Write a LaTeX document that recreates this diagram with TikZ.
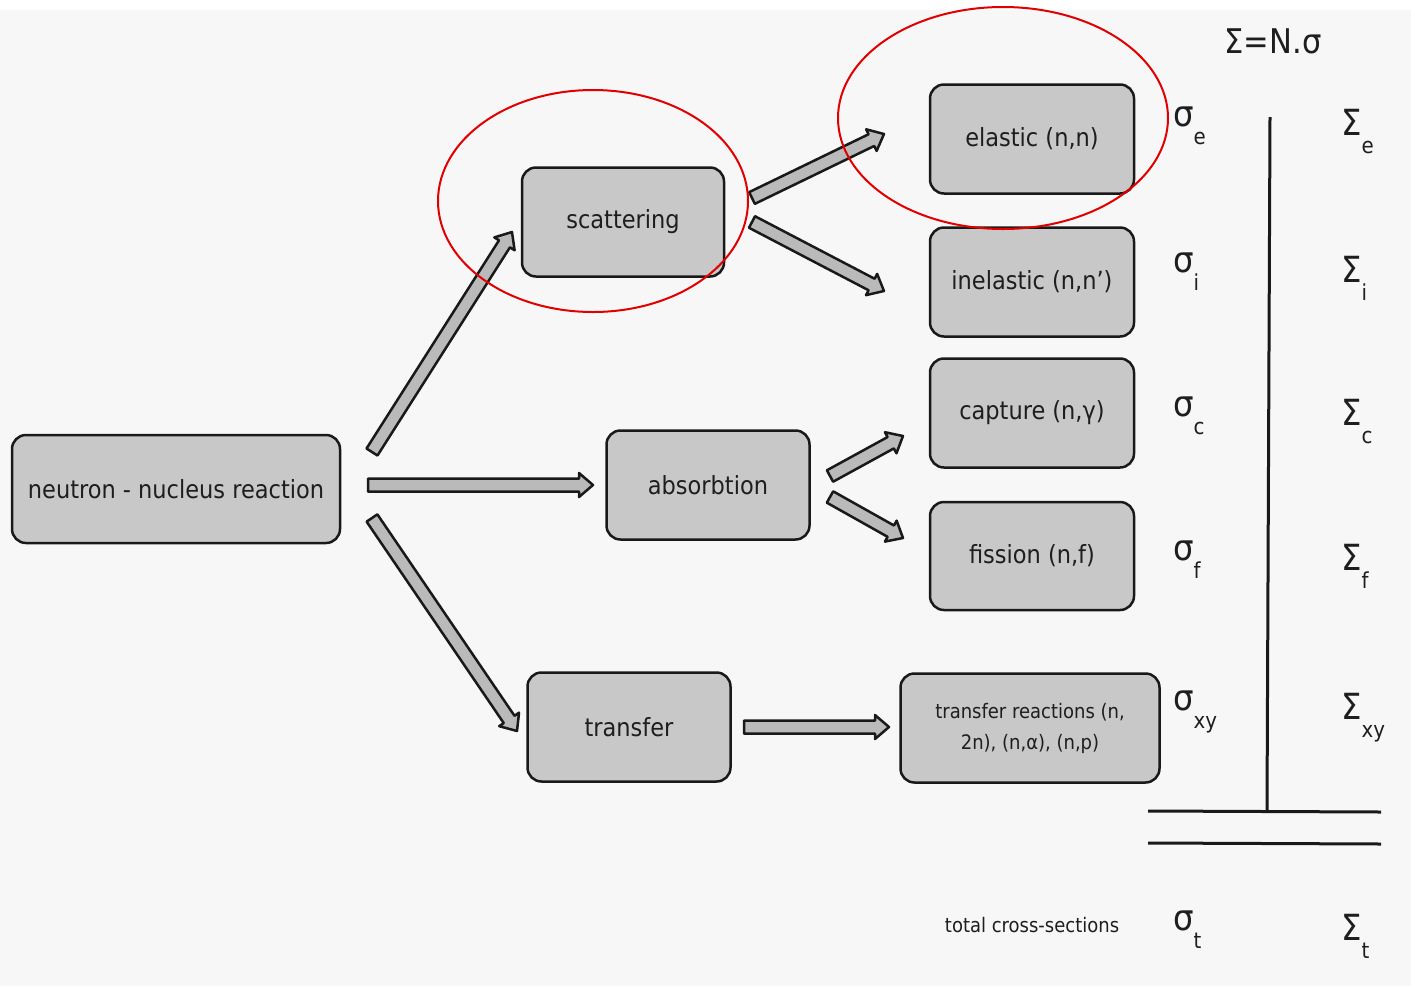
\documentclass[tikz,border=0pt]{standalone}
\usepackage{fontspec}
\setmainfont{DejaVu Sans Condensed}
\usetikzlibrary{calc}
\definecolor{bg}{HTML}{F7F7F7}
\definecolor{boxfill}{HTML}{C8C8C8}
\definecolor{arrfill}{HTML}{BABABA}
\definecolor{txt}{HTML}{1E1E1E}
\definecolor{ring}{HTML}{E00000}
\newcommand\gsym[2]{#1\raisebox{-0.5em}{\fontsize{22}{24}\selectfont #2}}
\newcommand\blockarrow[2]{%
  \draw[barrow] let \p1=($(#2)-(#1)$), \n1={atan2(\y1,\x1)}, \n2={veclen(\x1,\y1)} in
   ([shift={(#1)},rotate=\n1]0,6.5) -- ([shift={(#1)},rotate=\n1]{\n2-14},6.5)
   -- ([shift={(#1)},rotate=\n1]{\n2-14},12) -- ([shift={(#1)},rotate=\n1]\n2,0)
   -- ([shift={(#1)},rotate=\n1]{\n2-14},-12) -- ([shift={(#1)},rotate=\n1]{\n2-14},-6.5)
   -- ([shift={(#1)},rotate=\n1]0,-6.5) -- cycle;}
\tikzset{
  rbox/.style={draw=black!90, line width=2.5pt, fill=boxfill, rounded corners=14pt,
    text=txt, font=\fontsize{25}{30}\selectfont, inner sep=0pt},
  barrow/.style={draw=black!90, line width=2.5pt, fill=arrfill, line join=round},
  gtxt/.style={text=txt, font=\fontsize{36}{40}\selectfont, inner sep=0pt, anchor=west},
  ringline/.style={draw=ring, line width=2pt},
  rule/.style={draw=black!90, line width=3pt}
}
\begin{document}
\begin{tikzpicture}[x=1pt,y=-1pt]
\useasboundingbox (0,0) rectangle (1411,986);
\fill[bg] (0,0) rectangle (1411,986);
\fill[white] (0,0) rectangle (1411,10);

% boxes
\node[rbox, minimum width=328pt, minimum height=108pt] (nn) at (176,489) {neutron - nucleus reaction};
\node[rbox, minimum width=202pt, minimum height=109pt] (sc) at (623,222) {scattering};
\node[rbox, minimum width=203pt, minimum height=109pt] (ab) at (708,485) {absorbtion};
\node[rbox, minimum width=203pt, minimum height=109pt] (tr) at (629,727) {transfer};
\node[rbox, minimum width=204pt, minimum height=109pt] (el) at (1032,139) {elastic (n,n)};
\node[rbox, minimum width=204pt, minimum height=109pt] (in) at (1032,282) {inelastic (n,n’)};
\node[rbox, minimum width=204pt, minimum height=109pt] (ca) at (1032,413) {capture (n,γ)};
\node[rbox, minimum width=204pt, minimum height=108pt] (fi) at (1032,556) {fission (n,f)};
\node[rbox, minimum width=259pt, minimum height=109pt, align=center,
      font=\fontsize{20}{31}\selectfont] (tx) at (1030,728) {transfer reactions (n,\\2n), (n,α), (n,p)};

% arrow end points
\coordinate (a1s) at (372,452); \coordinate (a1e) at (512,232);
\coordinate (a2s) at (368,485); \coordinate (a2e) at (593,485);
\coordinate (a3s) at (372,518); \coordinate (a3e) at (517,731);
\coordinate (a4s) at (752,198); \coordinate (a4e) at (884,134);
\coordinate (a5s) at (752,222); \coordinate (a5e) at (884,291);
\coordinate (a6s) at (830,476); \coordinate (a6e) at (903,436);
\coordinate (a7s) at (830,497); \coordinate (a7e) at (903,538);
\coordinate (a8s) at (744,727); \coordinate (a8e) at (889,727);
\blockarrow{a1s}{a1e}
\blockarrow{a2s}{a2e}
\blockarrow{a3s}{a3e}
\blockarrow{a4s}{a4e}
\blockarrow{a5s}{a5e}
\blockarrow{a6s}{a6e}
\blockarrow{a7s}{a7e}
\blockarrow{a8s}{a8e}

% red rings
\draw[ringline] (593,201) ellipse [x radius=155, y radius=111];
\draw[ringline] (1003,118) ellipse [x radius=165, y radius=111];

% cross-section column
\node[text=txt, font=\fontsize{34}{38}\selectfont, inner sep=0pt] (form) at (1273,41) {Σ=N.σ};
\node[gtxt] (se) at (1173,126) {\gsym{σ}{e}};
\node[gtxt] (si) at (1173,272) {\gsym{σ}{i}};
\node[gtxt] (sca) at (1173,416) {\gsym{σ}{c}};
\node[gtxt] (sf) at (1173,560) {\gsym{σ}{f}};
\node[gtxt] (sxy) at (1173,712) {\gsym{σ}{xy}};
\node[gtxt] (st) at (1173,930) {\gsym{σ}{t}};
\node[gtxt] (Se) at (1341,132) {\gsym{Σ}{e}};
\node[gtxt] (Si) at (1341,278) {\gsym{Σ}{i}};
\node[gtxt] (Sc) at (1341,422) {\gsym{Σ}{c}};
\node[gtxt] (Sf) at (1341,566) {\gsym{Σ}{f}};
\node[gtxt] (Sxy) at (1341,718) {\gsym{Σ}{xy}};
\node[gtxt] (St) at (1341,936) {\gsym{Σ}{t}};
\node[text=txt, font=\fontsize{20}{24}\selectfont, inner sep=0pt] (tot) at (1032,925) {total cross-sections};

\coordinate (vt) at (1270,117);
\coordinate (vb) at (1267,810);
\coordinate (h1l) at (1148,811); \coordinate (h1r) at (1381,812);
\coordinate (h2l) at (1148,843); \coordinate (h2r) at (1381,844);
\draw[rule] (vt) -- (vb);
\draw[rule] (h1l) -- (h1r);
\draw[rule] (h2l) -- (h2r);
\end{tikzpicture}
\end{document}
